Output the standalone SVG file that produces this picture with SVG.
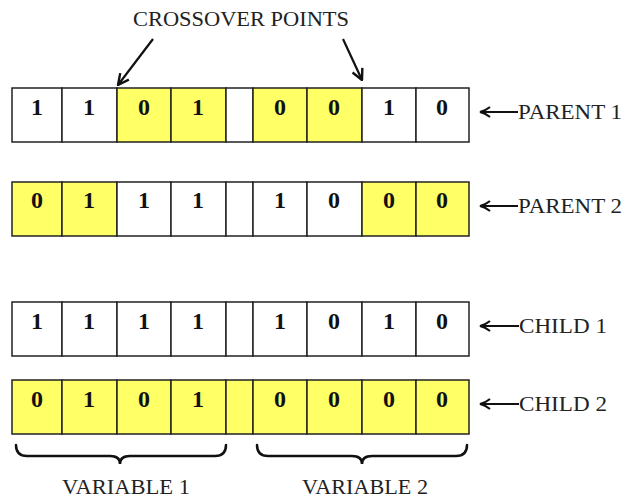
<svg xmlns="http://www.w3.org/2000/svg" width="628" height="500" viewBox="0 0 628 500">
  <defs>
    <marker id="vhead" viewBox="0 0 12 12" refX="11" refY="6" markerWidth="13" markerHeight="13" markerUnits="userSpaceOnUse" orient="auto">
      <path d="M1,1 L11,6 L1,11" fill="none" stroke="#111" stroke-width="2.2" stroke-linejoin="miter"/>
    </marker>
    <marker id="lhead" viewBox="0 0 12 12" refX="11" refY="6" markerWidth="12" markerHeight="12" markerUnits="userSpaceOnUse" orient="auto">
      <path d="M1,1 Q6,5 11,6 Q6,7 1,11" fill="none" stroke="#111" stroke-width="2.2"/>
    </marker>
  </defs>
  <style>
    .cell { stroke: #222; stroke-width: 1.5; }
    .w { fill: #ffffff; }
    .y { fill: #ffff66; }
    .bit { font-family: "Liberation Serif", "Times New Roman", serif; font-weight: bold; font-size: 24px; fill: #111; text-anchor: middle; }
    .lbl { font-family: "Liberation Serif", "Times New Roman", serif; font-size: 22px; fill: #222; }
    .conn { stroke: #111; stroke-width: 2.2; fill: none; }
    .brace { stroke: #111; stroke-width: 2.5; fill: none; stroke-linecap: round; }
  </style>
  <rect width="628" height="500" fill="#ffffff"/>

  <text class="lbl" x="241" y="26" text-anchor="middle" textLength="216" lengthAdjust="spacingAndGlyphs">CROSSOVER POINTS</text>

  <g id="parent1">
    <rect class="cell w" x="12" y="88" width="50" height="54"/>
    <rect class="cell w" x="62" y="88" width="55" height="54"/>
    <rect class="cell y" x="117" y="88" width="54" height="54"/>
    <rect class="cell y" x="171" y="88" width="55" height="54"/>
    <rect class="cell w" x="226" y="88" width="27" height="54"/>
    <rect class="cell y" x="253" y="88" width="54" height="54"/>
    <rect class="cell y" x="307" y="88" width="55" height="54"/>
    <rect class="cell w" x="362" y="88" width="54" height="54"/>
    <rect class="cell w" x="416" y="88" width="53" height="54"/>
    <text class="bit" x="37" y="115">1</text>
    <text class="bit" x="89" y="115">1</text>
    <text class="bit" x="144" y="115">0</text>
    <text class="bit" x="198" y="115">1</text>
    <text class="bit" x="280" y="115">0</text>
    <text class="bit" x="334" y="115">0</text>
    <text class="bit" x="389" y="115">1</text>
    <text class="bit" x="442" y="115">0</text>
    <text class="lbl" x="518" y="119" textLength="104" lengthAdjust="spacingAndGlyphs">PARENT 1</text>
  </g>

  <g id="parent2">
    <rect class="cell y" x="12" y="182" width="50" height="54"/>
    <rect class="cell y" x="62" y="182" width="55" height="54"/>
    <rect class="cell w" x="117" y="182" width="54" height="54"/>
    <rect class="cell w" x="171" y="182" width="55" height="54"/>
    <rect class="cell w" x="226" y="182" width="27" height="54"/>
    <rect class="cell w" x="253" y="182" width="54" height="54"/>
    <rect class="cell w" x="307" y="182" width="55" height="54"/>
    <rect class="cell y" x="362" y="182" width="54" height="54"/>
    <rect class="cell y" x="416" y="182" width="53" height="54"/>
    <text class="bit" x="37" y="208">0</text>
    <text class="bit" x="89" y="208">1</text>
    <text class="bit" x="144" y="208">1</text>
    <text class="bit" x="198" y="208">1</text>
    <text class="bit" x="280" y="208">1</text>
    <text class="bit" x="334" y="208">0</text>
    <text class="bit" x="389" y="208">0</text>
    <text class="bit" x="442" y="208">0</text>
    <text class="lbl" x="518" y="213" textLength="104" lengthAdjust="spacingAndGlyphs">PARENT 2</text>
  </g>

  <g id="child1">
    <rect class="cell w" x="12" y="302" width="50" height="54"/>
    <rect class="cell w" x="62" y="302" width="55" height="54"/>
    <rect class="cell w" x="117" y="302" width="54" height="54"/>
    <rect class="cell w" x="171" y="302" width="55" height="54"/>
    <rect class="cell w" x="226" y="302" width="27" height="54"/>
    <rect class="cell w" x="253" y="302" width="54" height="54"/>
    <rect class="cell w" x="307" y="302" width="55" height="54"/>
    <rect class="cell w" x="362" y="302" width="54" height="54"/>
    <rect class="cell w" x="416" y="302" width="53" height="54"/>
    <text class="bit" x="37" y="329">1</text>
    <text class="bit" x="89" y="329">1</text>
    <text class="bit" x="144" y="329">1</text>
    <text class="bit" x="198" y="329">1</text>
    <text class="bit" x="280" y="329">1</text>
    <text class="bit" x="334" y="329">0</text>
    <text class="bit" x="389" y="329">1</text>
    <text class="bit" x="442" y="329">0</text>
    <text class="lbl" x="519" y="333" textLength="88" lengthAdjust="spacingAndGlyphs">CHILD 1</text>
  </g>

  <g id="child2">
    <rect class="cell y" x="12" y="380" width="50" height="54"/>
    <rect class="cell y" x="62" y="380" width="55" height="54"/>
    <rect class="cell y" x="117" y="380" width="54" height="54"/>
    <rect class="cell y" x="171" y="380" width="55" height="54"/>
    <rect class="cell y" x="226" y="380" width="27" height="54"/>
    <rect class="cell y" x="253" y="380" width="54" height="54"/>
    <rect class="cell y" x="307" y="380" width="55" height="54"/>
    <rect class="cell y" x="362" y="380" width="54" height="54"/>
    <rect class="cell y" x="416" y="380" width="53" height="54"/>
    <text class="bit" x="37" y="407">0</text>
    <text class="bit" x="89" y="407">1</text>
    <text class="bit" x="144" y="407">0</text>
    <text class="bit" x="198" y="407">1</text>
    <text class="bit" x="280" y="407">0</text>
    <text class="bit" x="334" y="407">0</text>
    <text class="bit" x="389" y="407">0</text>
    <text class="bit" x="442" y="407">0</text>
    <text class="lbl" x="519" y="411" textLength="88" lengthAdjust="spacingAndGlyphs">CHILD 2</text>
  </g>

  <g id="variable1">
    <path class="brace" d="M16,445 Q16,456 27,456 L110,456 Q120,456 120,464 Q120,456 130,456 L215,456 Q226,456 226,445"/>
    <text class="lbl" x="62" y="494" textLength="128" lengthAdjust="spacingAndGlyphs">VARIABLE 1</text>
  </g>
  <g id="variable2">
    <path class="brace" d="M257,445 Q257,456 268,456 L352,456 Q362,456 362,464 Q362,456 372,456 L456,456 Q467,456 467,445"/>
    <text class="lbl" x="302" y="494" textLength="126" lengthAdjust="spacingAndGlyphs">VARIABLE 2</text>
  </g>

  <g id="connectors">
    <line class="conn" x1="153" y1="39" x2="118" y2="85" marker-end="url(#vhead)"/>
    <line class="conn" x1="343" y1="39" x2="362" y2="80" marker-end="url(#vhead)"/>
    <line class="conn" x1="518" y1="112" x2="480" y2="112" marker-end="url(#lhead)"/>
    <line class="conn" x1="518" y1="206" x2="480" y2="206" marker-end="url(#lhead)"/>
    <line class="conn" x1="519" y1="326" x2="480" y2="326" marker-end="url(#lhead)"/>
    <line class="conn" x1="519" y1="404" x2="480" y2="404" marker-end="url(#lhead)"/>
  </g>
</svg>
